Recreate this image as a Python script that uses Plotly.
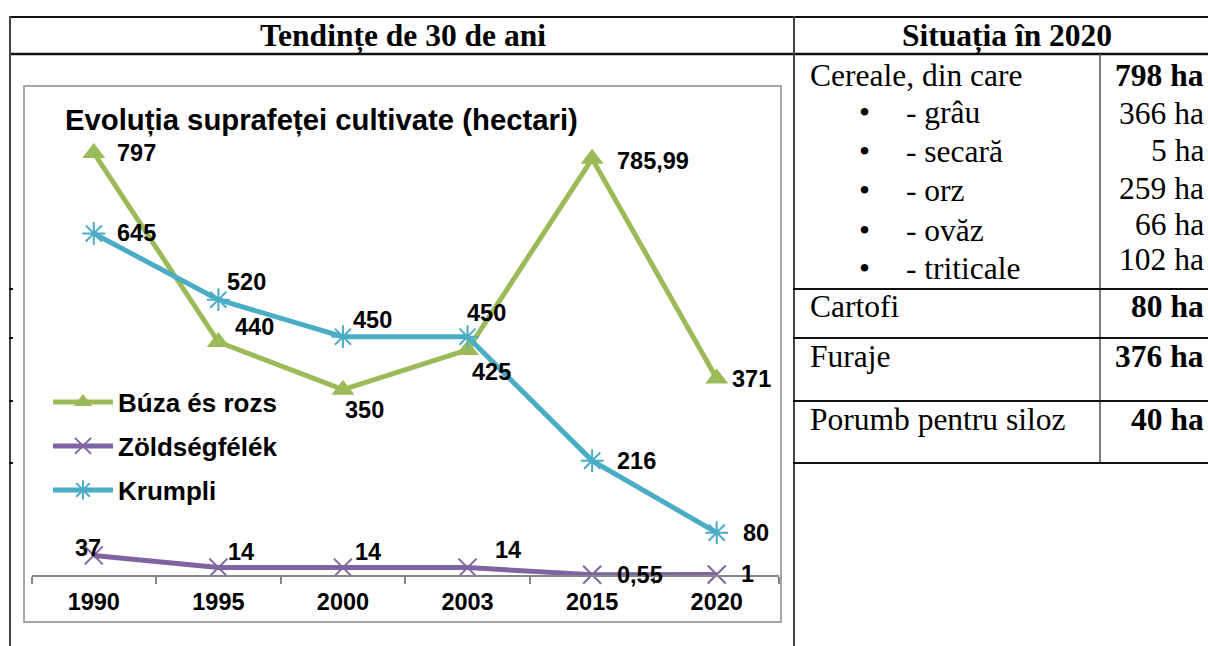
import plotly.graph_objects as go

# ---------------- data ----------------
years = ["1990", "1995", "2000", "2003", "2015", "2020"]
buza = [797, 440, 350, 425, 785.99, 371]
zoldseg = [37, 14, 14, 14, 0.55, 1]
krumpli = [645, 520, 450, 450, 216, 80]
series_names = ["Búza és rozs", "Zöldségfélék", "Krumpli"]

chart_title = "Evoluția suprafeței cultivate (hectari)"
header_left = "Tendințe de 30 de ani"
header_right = "Situația în 2020"

cereal_label = "Cereale, din care"
cereal_total = "798 ha"
cereal_items = ["- grâu", "- secară", "- orz", "- ovăz", "- triticale"]
cereal_values = ["366 ha", "5 ha", "259 ha", "66 ha", "102 ha"]
other_labels = ["Cartofi", "Furaje", "Porumb pentru siloz"]
other_values = ["80 ha", "376 ha", "40 ha"]

# ---------------- styles / layout helpers ----------------
W, H = 1208, 646
GREEN, PURPLE, CYAN = "#9BBB59", "#8064A2", "#4BACC6"
SANS = "Liberation Sans"
SERIF = "Liberation Serif"


def X(px):
    return px / W


def Y(py):
    return 1 - py / H


# label offsets (xshift, yshift) in pixels
buza_off = [(43, 0), (36, 15), (22, -20), (24, -22), (61, -2), (35, 0)]
zold_off = [(-6, 7), (23, 16), (25, 16), (40, 18), (48, 0), (31, 0)]
krum_off = [(43, 0), (28, 18), (30, 17), (19, 24), (44, 0), (39, 0)]


def fmt(v):
    return f"{v:g}".replace(".", ",")


fig = go.Figure()

fig.add_trace(go.Scatter(
    x=years, y=buza, name="<b>" + series_names[0] + "</b>", mode="lines+markers",
    line=dict(color=GREEN, width=5),
    marker=dict(symbol="triangle-up", size=20, color=GREEN),
    cliponaxis=False, legend="legend"))
fig.add_trace(go.Scatter(
    x=years, y=zoldseg, name="<b>" + series_names[1] + "</b>", mode="lines+markers",
    line=dict(color=PURPLE, width=5),
    marker=dict(symbol="x-thin-open", size=18, color=PURPLE, line=dict(width=2, color=PURPLE)),
    cliponaxis=False, legend="legend2"))
fig.add_trace(go.Scatter(
    x=years, y=krumpli, name="<b>" + series_names[2] + "</b>", mode="lines+markers",
    line=dict(color=CYAN, width=5),
    marker=dict(symbol="asterisk-open", size=19, color=CYAN, line=dict(width=2, color=CYAN)),
    cliponaxis=False, legend="legend3"))

annotations = []
for vals, offs in ((buza, buza_off), (zoldseg, zold_off), (krumpli, krum_off)):
    for i, (v, (dx, dy)) in enumerate(zip(vals, offs)):
        annotations.append(dict(
            x=i, y=v, xref="x", yref="y", text="<b>" + fmt(v) + "</b>", showarrow=False,
            xshift=dx, yshift=dy, xanchor="center", yanchor="middle",
            font=dict(family=SANS, size=23.5, color="black")))

# chart title
annotations.append(dict(x=X(63), y=Y(120), xref="paper", yref="paper", text="<b>" + chart_title + "</b>",
                        showarrow=False, xanchor="left", yanchor="middle",
                        font=dict(family=SANS, size=29.3, color="black")))

# table headers
serif_size = 31.5
annotations.append(dict(x=X(403), y=Y(36), xref="paper", yref="paper", text="<b>" + header_left + "</b>",
                        showarrow=False, xanchor="center", yanchor="middle",
                        font=dict(family=SERIF, size=serif_size, color="black")))
annotations.append(dict(x=X(1007), y=Y(36), xref="paper", yref="paper", text="<b>" + header_right + "</b>",
                        showarrow=False, xanchor="center", yanchor="middle",
                        font=dict(family=SERIF, size=serif_size, color="black")))


def txt(s, px, py, anchor="left", bold=False):
    annotations.append(dict(x=X(px), y=Y(py), xref="paper", yref="paper",
                            text=("<b>" + s + "</b>") if bold else s, showarrow=False,
                            xanchor=anchor, yanchor="middle",
                            font=dict(family=SERIF, size=serif_size, color="black")))


txt(cereal_label, 808, 75)
txt(cereal_total, 1206, 75, "right", True)
item_y = [112, 151, 190, 230, 268]
val_y = [113, 150, 188, 224, 259]
for s, yy in zip(cereal_items, item_y):
    txt("•", 864, yy, "center")
    txt(s, 904, yy)
for s, yy in zip(cereal_values, val_y):
    txt(s, 1206, yy, "right")
other_y = [307, 356, 419]
for s, v, yy in zip(other_labels, other_values, other_y):
    txt(s, 808, yy)
    txt(v, 1206, yy, "right", True)

# ---------------- table lines ----------------
shapes = []


def hline(x0, x1, y, w=2, c="#111111"):
    shapes.append(dict(type="line", xref="paper", yref="paper", x0=X(x0), x1=X(x1), y0=Y(y), y1=Y(y),
                       line=dict(color=c, width=w)))


def vline(x, y0, y1, w=2, c="#333333"):
    shapes.append(dict(type="line", xref="paper", yref="paper", x0=X(x), x1=X(x), y0=Y(y0), y1=Y(y1),
                       line=dict(color=c, width=w)))


hline(9, 1210, 17, 2)
hline(9, 1210, 54, 2.5)
vline(10, 16, 650, 2, "#444444")
vline(794, 16, 650, 2, "#444444")
vline(1100, 54, 463, 1.5, "#555555")
for yy in (289, 338, 401, 463):
    hline(793, 1210, yy, 2)
    hline(9, 13, yy, 2)
# chart box
shapes.append(dict(type="rect", xref="paper", yref="paper", x0=X(24), x1=X(781), y0=Y(86), y1=Y(622),
                   line=dict(color="#A6A6A6", width=2), fillcolor="rgba(0,0,0,0)", layer="below"))

leg_common = dict(xanchor="left", yanchor="middle", bgcolor="rgba(0,0,0,0)", itemwidth=60,
                  font=dict(family=SANS, size=26, color="black"), tracegroupgap=0)

fig.update_layout(
    width=W, height=H, margin=dict(l=0, r=0, t=0, b=0),
    paper_bgcolor="white", plot_bgcolor="white",
    showlegend=True,
    legend=dict(x=X(48), y=Y(402), **leg_common),
    legend2=dict(x=X(48), y=Y(446), **leg_common),
    legend3=dict(x=X(48), y=Y(490), **leg_common),
    xaxis=dict(type="category", categoryarray=years, range=[-0.5, 5.5],
               domain=[X(31.5), X(779)], showline=True, linecolor="#868686", linewidth=2,
               ticks="outside", tickson="boundaries", ticklen=7, tickwidth=2, tickcolor="#868686",
               tickfont=dict(family=SANS, size=23.5, color="black"), ticklabelstandoff=5,
               showgrid=False, zeroline=False, fixedrange=True),
    yaxis=dict(range=[0, 900], domain=[Y(575), Y(575 - 900 * 0.5295)], visible=False,
               showgrid=False, zeroline=False, fixedrange=True),
    annotations=annotations, shapes=shapes,
)
fig.update_xaxes(tickprefix="<b>", ticksuffix="</b>")

fig.write_html("out.html", config={"displayModeBar": False},
               post_script="document.body.style.margin='0';document.body.style.padding='0';")
